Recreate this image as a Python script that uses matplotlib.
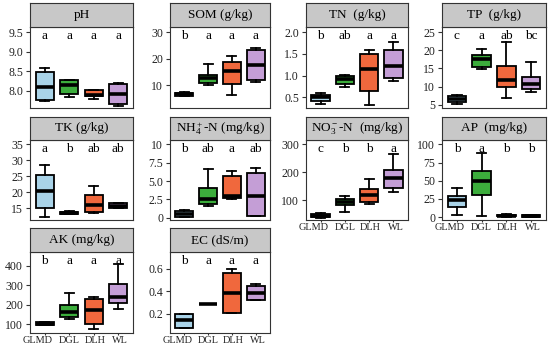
import matplotlib
matplotlib.use("Agg")
import matplotlib.pyplot as plt
import matplotlib.transforms as mtransforms

plt.rcParams['font.family'] = ['Liberation Serif', 'DejaVu Serif']
plt.rcParams['mathtext.fontset'] = 'custom'
plt.rcParams['mathtext.rm'] = 'Liberation Serif'
plt.rcParams['mathtext.it'] = 'Liberation Serif:italic'

groups = ["GLMD", "DGL", "DLH", "WL"]
colors = ['#a9d3e8', '#3cad3c', '#f0683d', '#c49ed6']

titles = ["pH", "SOM (g/kg)", "TN  (g/kg)", "TP  (g/kg)",
          "TK (g/kg)", r"NH$_4^+$-N (mg/kg)", r"NO$_3^-$-N  (mg/kg)", "AP  (mg/kg)",
          "AK (mg/kg)", "EC (dS/m)"]

# each group: [lower whisker, Q1, median, Q3, upper whisker]
ph = [[7.73, 7.77, 8.09, 8.48, 8.58], [7.83, 7.93, 8.15, 8.28, 8.28],
      [7.78, 7.86, 7.90, 8.02, 8.02], [7.60, 7.65, 7.91, 8.17, 8.21]]
som = [[6.0, 6.2, 6.6, 7.3, 7.5], [10.3, 11.0, 12.7, 14.1, 18.2],
       [6.3, 10.5, 15.6, 19.0, 21.1], [11.3, 12.0, 17.8, 23.5, 24.1]]
tn = [[0.34, 0.42, 0.50, 0.56, 0.59], [0.73, 0.80, 0.92, 0.98, 1.02],
      [0.32, 0.65, 1.15, 1.50, 1.59], [0.87, 0.95, 1.23, 1.60, 1.78]]
tp = [[5.2, 5.7, 6.65, 7.4, 7.75], [14.9, 15.4, 17.7, 18.6, 20.4],
      [6.9, 9.9, 11.9, 15.6, 22.2], [8.5, 9.4, 10.8, 12.5, 16.7]]
tk = [[12.2, 15.2, 20.4, 25.4, 28.5], [13.2, 13.3, 13.6, 14.0, 14.1],
      [13.6, 14.0, 16.0, 19.1, 22.0], [15.2, 15.2, 15.7, 16.7, 16.7]]
nh4 = [[0.14, 0.14, 0.45, 0.90, 1.13], [1.67, 1.85, 2.57, 4.05, 6.6],
       [2.57, 2.75, 3.0, 5.63, 6.44], [0.18, 0.30, 3.0, 6.08, 6.76]]
no3 = [[38, 40, 46, 52, 56], [60, 83, 95, 105, 115],
       [86, 95, 119, 140, 176], [129, 145, 181, 208, 265]]
ap = [[2.3, 14, 24, 29.5, 40], [1.4, 31, 49, 63.6, 88.6],
      [0.5, 1.0, 2.0, 3.5, 4.5], [0.0, 0.3, 1.5, 2.8, 3.0]]
ak = [[93, 93, 100, 109, 109], [126, 138, 163, 198, 261],
      [74, 100, 172, 227, 241], [175, 206, 237, 304, 407]]
ec = [[0.073, 0.073, 0.147, 0.197, 0.20], [0.285, 0.285, 0.285, 0.285, 0.285],
      [0.212, 0.212, 0.385, 0.559, 0.594], [0.326, 0.326, 0.382, 0.444, 0.462]]
panel_data = [ph, som, tn, tp, tk, nh4, no3, ap, ak, ec]

letters = [["a", "a", "a", "a"], ["b", "a", "a", "a"], ["b", "ab", "a", "a"],
           ["c", "a", "ab", "bc"], ["a", "b", "ab", "ab"], ["b", "ab", "a", "ab"],
           ["c", "b", "b", "a"], ["b", "a", "b", "b"], ["b", "a", "a", "a"],
           ["b", "a", "a", "a"]]

yticks = [[8.0, 8.5, 9.0, 9.5], [10, 20, 30], [0.5, 1.0, 1.5, 2.0], [5, 10, 15, 20, 25],
          [15, 20, 25, 30, 35], [0, 2.5, 5.0, 7.5, 10], [100, 200, 300],
          [0, 25, 50, 75, 100], [100, 200, 300, 400], [0.2, 0.4, 0.6]]
yticklabels = [["8.0", "8.5", "9.0", "9.5"], ["10", "20", "30"],
               ["0.5", "1.0", "1.5", "2.0"], ["5", "10", "15", "20", "25"],
               ["15", "20", "25", "30", "35"], ["0", "2.5", "5.0", "7.5", "10"],
               ["100", "200", "300"], ["0", "25", "50", "75", "100"],
               ["100", "200", "300", "400"], ["0.2", "0.4", "0.6"]]
ylims = [(7.56, 9.63), (1.5, 32), (0.25, 2.12), (4.1, 26.4), (11.35, 36.4),
         (-0.3, 10.6), (30, 315), (-4, 106), (54, 470), (0.032, 0.747)]

W, H = 550, 346
fig = plt.figure(figsize=(5.5, 3.46), dpi=100)

col_l = [30, 170, 306, 442]
col_r = [133, 270, 408, 546]
rows = [(3, 27, 108), (117, 140, 220), (228, 252, 333)]
show_x = {6, 7, 8, 9}
label_shift_px = [-7, 0, 1, 2]


def rect(l, t, r, b):
    return [l / W, 1 - b / H, (r - l) / W, (b - t) / H]


for i, data in enumerate(panel_data):
    row, col = divmod(i, 4)
    st, sb, pb = rows[row]
    ax = fig.add_axes(rect(col_l[col], sb, col_r[col], pb))
    sax = fig.add_axes(rect(col_l[col], st, col_r[col], sb))
    sax.set_facecolor('#c8c8c8')
    sax.set_xticks([])
    sax.set_yticks([])
    for sp in sax.spines.values():
        sp.set_color('#333333')
        sp.set_linewidth(0.8)
    sax.text(0.5, 0.5, titles[i], ha='center', va='center', fontsize=9.5,
             transform=sax.transAxes)

    stats = [dict(whislo=s[0], q1=s[1], med=s[2], q3=s[3], whishi=s[4], label=g)
             for s, g in zip(data, groups)]
    bp = ax.bxp(stats, positions=[1, 2, 3, 4], widths=0.75, capwidths=0.38,
                showfliers=False, patch_artist=True,
                boxprops=dict(linewidth=1.3, edgecolor='black'),
                medianprops=dict(color='black', linewidth=2.6, solid_capstyle='butt'),
                whiskerprops=dict(linewidth=1.3, color='black'),
                capprops=dict(linewidth=1.3, color='black'))
    for patch, c in zip(bp['boxes'], colors):
        patch.set_facecolor(c)

    ax.set_xlim(0.4, 4.6)
    ax.set_ylim(*ylims[i])
    ax.set_yticks(yticks[i])
    ax.set_yticklabels(yticklabels[i], fontsize=8.5, color='#222222')
    ax.tick_params(axis='y', length=3, width=0.8, pad=2, color='#333333')
    if i in show_x:
        ax.set_xticks([1, 2, 3, 4])
        ax.set_xticklabels(groups, fontsize=7.4, color='#222222')
        ax.tick_params(axis='x', length=1.5, width=0.8, pad=0.5, color='#333333')
        for lab, dx in zip(ax.get_xticklabels(), label_shift_px):
            off = mtransforms.ScaledTranslation(dx / 100, 0, fig.dpi_scale_trans)
            lab.set_transform(lab.get_transform() + off)
    else:
        ax.set_xticks([])
    for sp in ax.spines.values():
        sp.set_color('#333333')
        sp.set_linewidth(0.8)
    for x, lt in zip([1, 2, 3, 4], letters[i]):
        ax.text(x, 0.885, lt, ha='center', va='center', fontsize=9.5,
                transform=ax.get_xaxis_transform())

fig.savefig("out.png", dpi=100)
